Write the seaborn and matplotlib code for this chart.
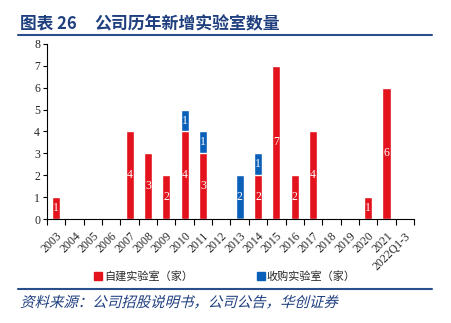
import matplotlib
matplotlib.use("Agg")
import matplotlib.pyplot as plt
import seaborn as sns
import pandas as pd
from matplotlib.patches import PathPatch
from matplotlib.textpath import TextPath
from matplotlib.font_manager import FontProperties
from matplotlib.lines import Line2D
import matplotlib.transforms as mtransforms

years = ["2003", "2004", "2005", "2006", "2007", "2008", "2009", "2010", "2011", "2012",
         "2013", "2014", "2015", "2016", "2017", "2018", "2019", "2020", "2021", "2022Q1-3"]
self_built = [1, 0, 0, 0, 4, 3, 2, 4, 3, 0, 0, 2, 7, 2, 4, 0, 0, 1, 6, 0]
acquired = [0, 0, 0, 0, 0, 0, 0, 1, 1, 0, 2, 1, 0, 0, 0, 0, 0, 0, 0, 0]
series_names = ["自建实验室（家）", "收购实验室（家）"]
title_label = "图表 26"
title_text = "公司历年新增实验室数量"
source_text = "资料来源：公司招股说明书，公司公告，华创证券"

RED = "#E3121D"
BLUE = "#0A60B8"
NAVY = "#1F3F7F"

sns.set_theme(style="white")
plt.rcParams['font.family'] = ['Noto Sans CJK SC', 'DejaVu Sans']

df = pd.DataFrame({"year": years, "self": self_built, "acq": acquired})
df["total"] = df["self"] + df["acq"]

fig = plt.figure(figsize=(4.52, 3.23), dpi=100)
ax = fig.add_axes([47/452, 1-219/323, (414-47)/452, (219-44)/323])

sns.barplot(data=df, x="year", y="total", color=BLUE, saturation=1, width=0.44, ax=ax, order=years)
sns.barplot(data=df, x="year", y="self", color=RED, saturation=1, width=0.44, ax=ax, order=years)

serif = "Liberation Serif"
for i, (s, a) in enumerate(zip(self_built, acquired)):
    if s > 0:
        ax.text(i, s / 2, str(s), ha="center", va="center", color="white", fontsize=8.5, family=serif)
    if a > 0:
        ax.text(i, s + a / 2, str(a), ha="center", va="center", color="white", fontsize=8.5, family=serif)

ax.set_xlim(-0.5, len(years) - 0.5)
ax.set_ylim(0, 8)
ax.set_yticks(range(0, 9))
ax.set_yticklabels([str(v) for v in range(0, 9)], family=serif, fontsize=8.5)
ax.set_xticks(range(len(years)))
ax.set_xticklabels(years, rotation=45, ha="right", rotation_mode="anchor", family=serif, fontsize=8.5)
ax.set_xlabel("")
ax.set_ylabel("")
for sp in ["top", "right"]:
    ax.spines[sp].set_visible(False)
for sp in ["left", "bottom"]:
    ax.spines[sp].set_color("black")
    ax.spines[sp].set_linewidth(0.8)
ax.tick_params(axis="y", which="both", left=True, length=3, width=0.8, color="black", pad=2)
ax.tick_params(axis="x", which="major", bottom=False, pad=2)
ax.set_xticks([i - 0.5 for i in range(len(years) + 1)], minor=True)
ax.tick_params(axis="x", which="minor", bottom=True, length=4, width=0.8, color="black")

# legend
handles = [Line2D([0], [0], marker="s", color="none", markerfacecolor=RED, markeredgecolor=RED, markersize=5.5),
           Line2D([0], [0], marker="s", color="none", markerfacecolor=BLUE, markeredgecolor=BLUE, markersize=5.5)]
fig.legend(handles, series_names, loc="center", bbox_to_anchor=(225/452, 1-276/323), ncol=2,
           frameon=False, fontsize=8, handletextpad=0.15, columnspacing=5.8, handlelength=0.7)

# title
fig.text(20/452, 1-24/323, title_label, fontsize=12, fontweight="bold", color=NAVY, va="center", ha="left")
fig.text(94/452, 1-24/323, title_text, fontsize=12.2, fontweight="bold", color=NAVY, va="center", ha="left")
fig.add_artist(Line2D([18/452, 432/452], [1-35/323, 1-35/323], transform=fig.transFigure, color="#2A4E8C", lw=1.5))
fig.add_artist(Line2D([18/452, 432/452], [1-289/323, 1-289/323], transform=fig.transFigure, color="#2A4E8C", lw=1.5))

# italic source text via skewed text path
fp = FontProperties(family="Noto Sans CJK SC", size=10.4)
tp = TextPath((0, 0), source_text, prop=fp)
tr = mtransforms.Affine2D().skew_deg(15, 0).scale(100/72).translate(20, 323-307)
patch = PathPatch(tp, transform=tr, color=NAVY, lw=0)
fig.add_artist(patch)

fig.savefig("out.png", dpi=100)
